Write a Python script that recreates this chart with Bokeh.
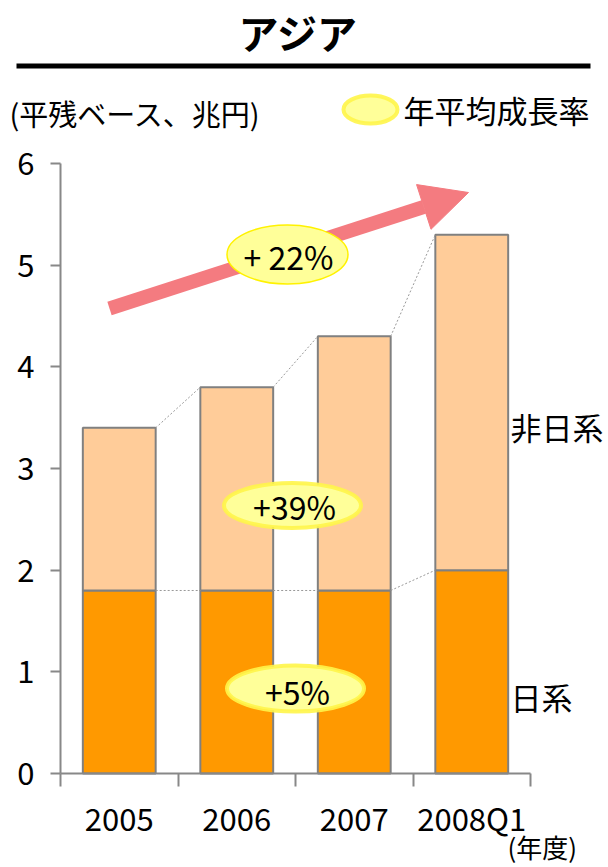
from bokeh.plotting import figure
from bokeh.models import Range1d, FixedTicker, Label, Arrow, NormalHead, LinearAxis
from bokeh.embed import file_html
from bokeh.resources import INLINE

# ---------------- data ----------------
categories = ["2005", "2006", "2007", "2008Q1"]
japanese = [1.8, 1.8, 1.8, 2.0]          # 日系
non_japanese = [1.6, 2.0, 2.5, 3.3]      # 非日系
growth_total = "+ 22%"
growth_non_japanese = "+39%"
growth_japanese = "+5%"
y_ticks = [0, 1, 2, 3, 4, 5, 6]

title_text = "アジア"
unit_text = "(平残ベース、兆円)"
legend_text = "年平均成長率"
series_labels = ["日系", "非日系"]
x_unit_text = "(年度)"

# ---------------- layout helpers ----------------
W, H = 608, 867
AX_X, AX_Y = 60, 773   # pixel position of the axes
XPX = 117.5            # pixels per category
YPX = 101.667          # pixels per unit
FONT = "Noto Sans CJK JP"


def dx(px):
    return 0.5 + (px - AX_X) / XPX


def dy(py):
    return (AX_Y - py) / YPX


xs = list(range(1, len(categories) + 1))
totals = [a + b for a, b in zip(japanese, non_japanese)]
BW = 0.62

p = figure(width=W, height=H, x_range=Range1d(dx(0), dx(W)), y_range=Range1d(dy(H), dy(0)),
           min_border=0, min_border_left=0, min_border_right=0, min_border_top=0,
           min_border_bottom=0, x_axis_location=None, y_axis_location=None,
           toolbar_location=None, output_backend="svg")
p.outline_line_color = None
p.background_fill_color = "white"
p.border_fill_color = "white"
p.grid.visible = False
p.xgrid.visible = False
p.ygrid.visible = False

# growth arrow (below everything)
pink = "#F47B80"
p.add_layout(Arrow(x_start=dx(109), y_start=dy(308), x_end=dx(468), y_end=dy(192),
                   line_color=pink, line_width=14, level="underlay",
                   end=NormalHead(size=47, fill_color=pink, line_color=pink, line_width=1)))

# bars
p.vbar(x=xs, bottom=0, top=japanese, width=BW, fill_color="#FF9900",
       line_color="#808080", line_width=2)
p.vbar(x=xs, bottom=japanese, top=totals, width=BW, fill_color="#FFCC99",
       line_color="#808080", line_width=2)

# dotted connectors
for series in (totals, japanese):
    p.segment(x0=[x + BW / 2 for x in xs[:-1]], y0=series[:-1],
              x1=[x - BW / 2 for x in xs[1:]], y1=series[1:],
              line_color="#999999", line_width=1, line_dash="2 2")

# axes at fixed locations
ya = LinearAxis(fixed_location=0.5)
ya.ticker = FixedTicker(ticks=y_ticks)
ya.bounds = (0, 6)
ya.axis_line_color = "#888888"
ya.axis_line_width = 2
ya.major_tick_line_color = "#888888"
ya.major_tick_line_width = 2
ya.major_tick_out = 10
ya.major_tick_in = 0
ya.minor_tick_line_color = None
ya.major_label_text_font = FONT
ya.major_label_text_font_size = "31px"
ya.major_label_text_color = "black"
ya.major_label_standoff = 16
p.add_layout(ya, "left")

xa = LinearAxis(fixed_location=0)
xa.ticker = FixedTicker(ticks=xs, minor_ticks=[x - 0.5 for x in xs] + [xs[-1] + 0.5])
xa.major_label_overrides = {x: c for x, c in zip(xs, categories)}
xa.bounds = (0.5, len(categories) + 0.5)
xa.axis_line_color = "#888888"
xa.axis_line_width = 2
xa.major_tick_line_color = None
xa.major_tick_out = 0
xa.major_tick_in = 0
xa.minor_tick_line_color = "#888888"
xa.minor_tick_line_width = 2
xa.minor_tick_out = 13
xa.minor_tick_in = 0
xa.major_label_text_font = FONT
xa.major_label_text_font_size = "31px"
xa.major_label_text_color = "black"
xa.major_label_standoff = 8
p.add_layout(xa, "below")

# ellipses with growth rates
p.ellipse(x=[dx(287)], y=[dy(254)], width=[121 / XPX], height=[59 / YPX],
          fill_color="#FFFF99", line_color="#FFF200", line_width=1.5)
p.ellipse(x=[dx(292), dx(295), dx(370)], y=[dy(505), dy(688), dy(109)],
          width=[137 / XPX, 137 / XPX, 54 / XPX], height=[45 / YPX, 46 / YPX, 28 / YPX],
          fill_color="#FFFF99", line_color="#FFF54A", line_width=4, line_alpha=0.9)

for txt, px, py in [(growth_total, 288, 255), (growth_non_japanese, 294, 505),
                    (growth_japanese, 297, 690)]:
    p.add_layout(Label(x=dx(px), y=dy(py), text=txt, text_align="center",
                       text_baseline="middle", text_font=FONT, text_font_size="32px",
                       text_color="black"))

# title and line
p.add_layout(Label(x=dx(298), y=dy(31), text=title_text, text_align="center",
                   text_baseline="middle", text_font=FONT, text_font_size="40px",
                   text_font_style="bold", text_color="black"))
p.add_layout(Arrow(x_start=dx(16), y_start=dy(65.5), x_end=dx(590), y_end=dy(65.5),
                   end=None, line_color="black", line_width=5))


def label(txt, px, py, size="28px", align="left"):
    p.add_layout(Label(x=dx(px), y=dy(py), text=txt, text_align=align,
                       text_baseline="middle", text_font=FONT, text_font_size=size,
                       text_color="black"))


label(unit_text, 9, 112, "29px")
label(legend_text, 403, 109, "31px")
label(series_labels[1], 510, 426, "31px")
label(series_labels[0], 510, 696, "31px")
label(x_unit_text, 507, 846, "26px")

open("out.html", "w").write(file_html(p, INLINE))
